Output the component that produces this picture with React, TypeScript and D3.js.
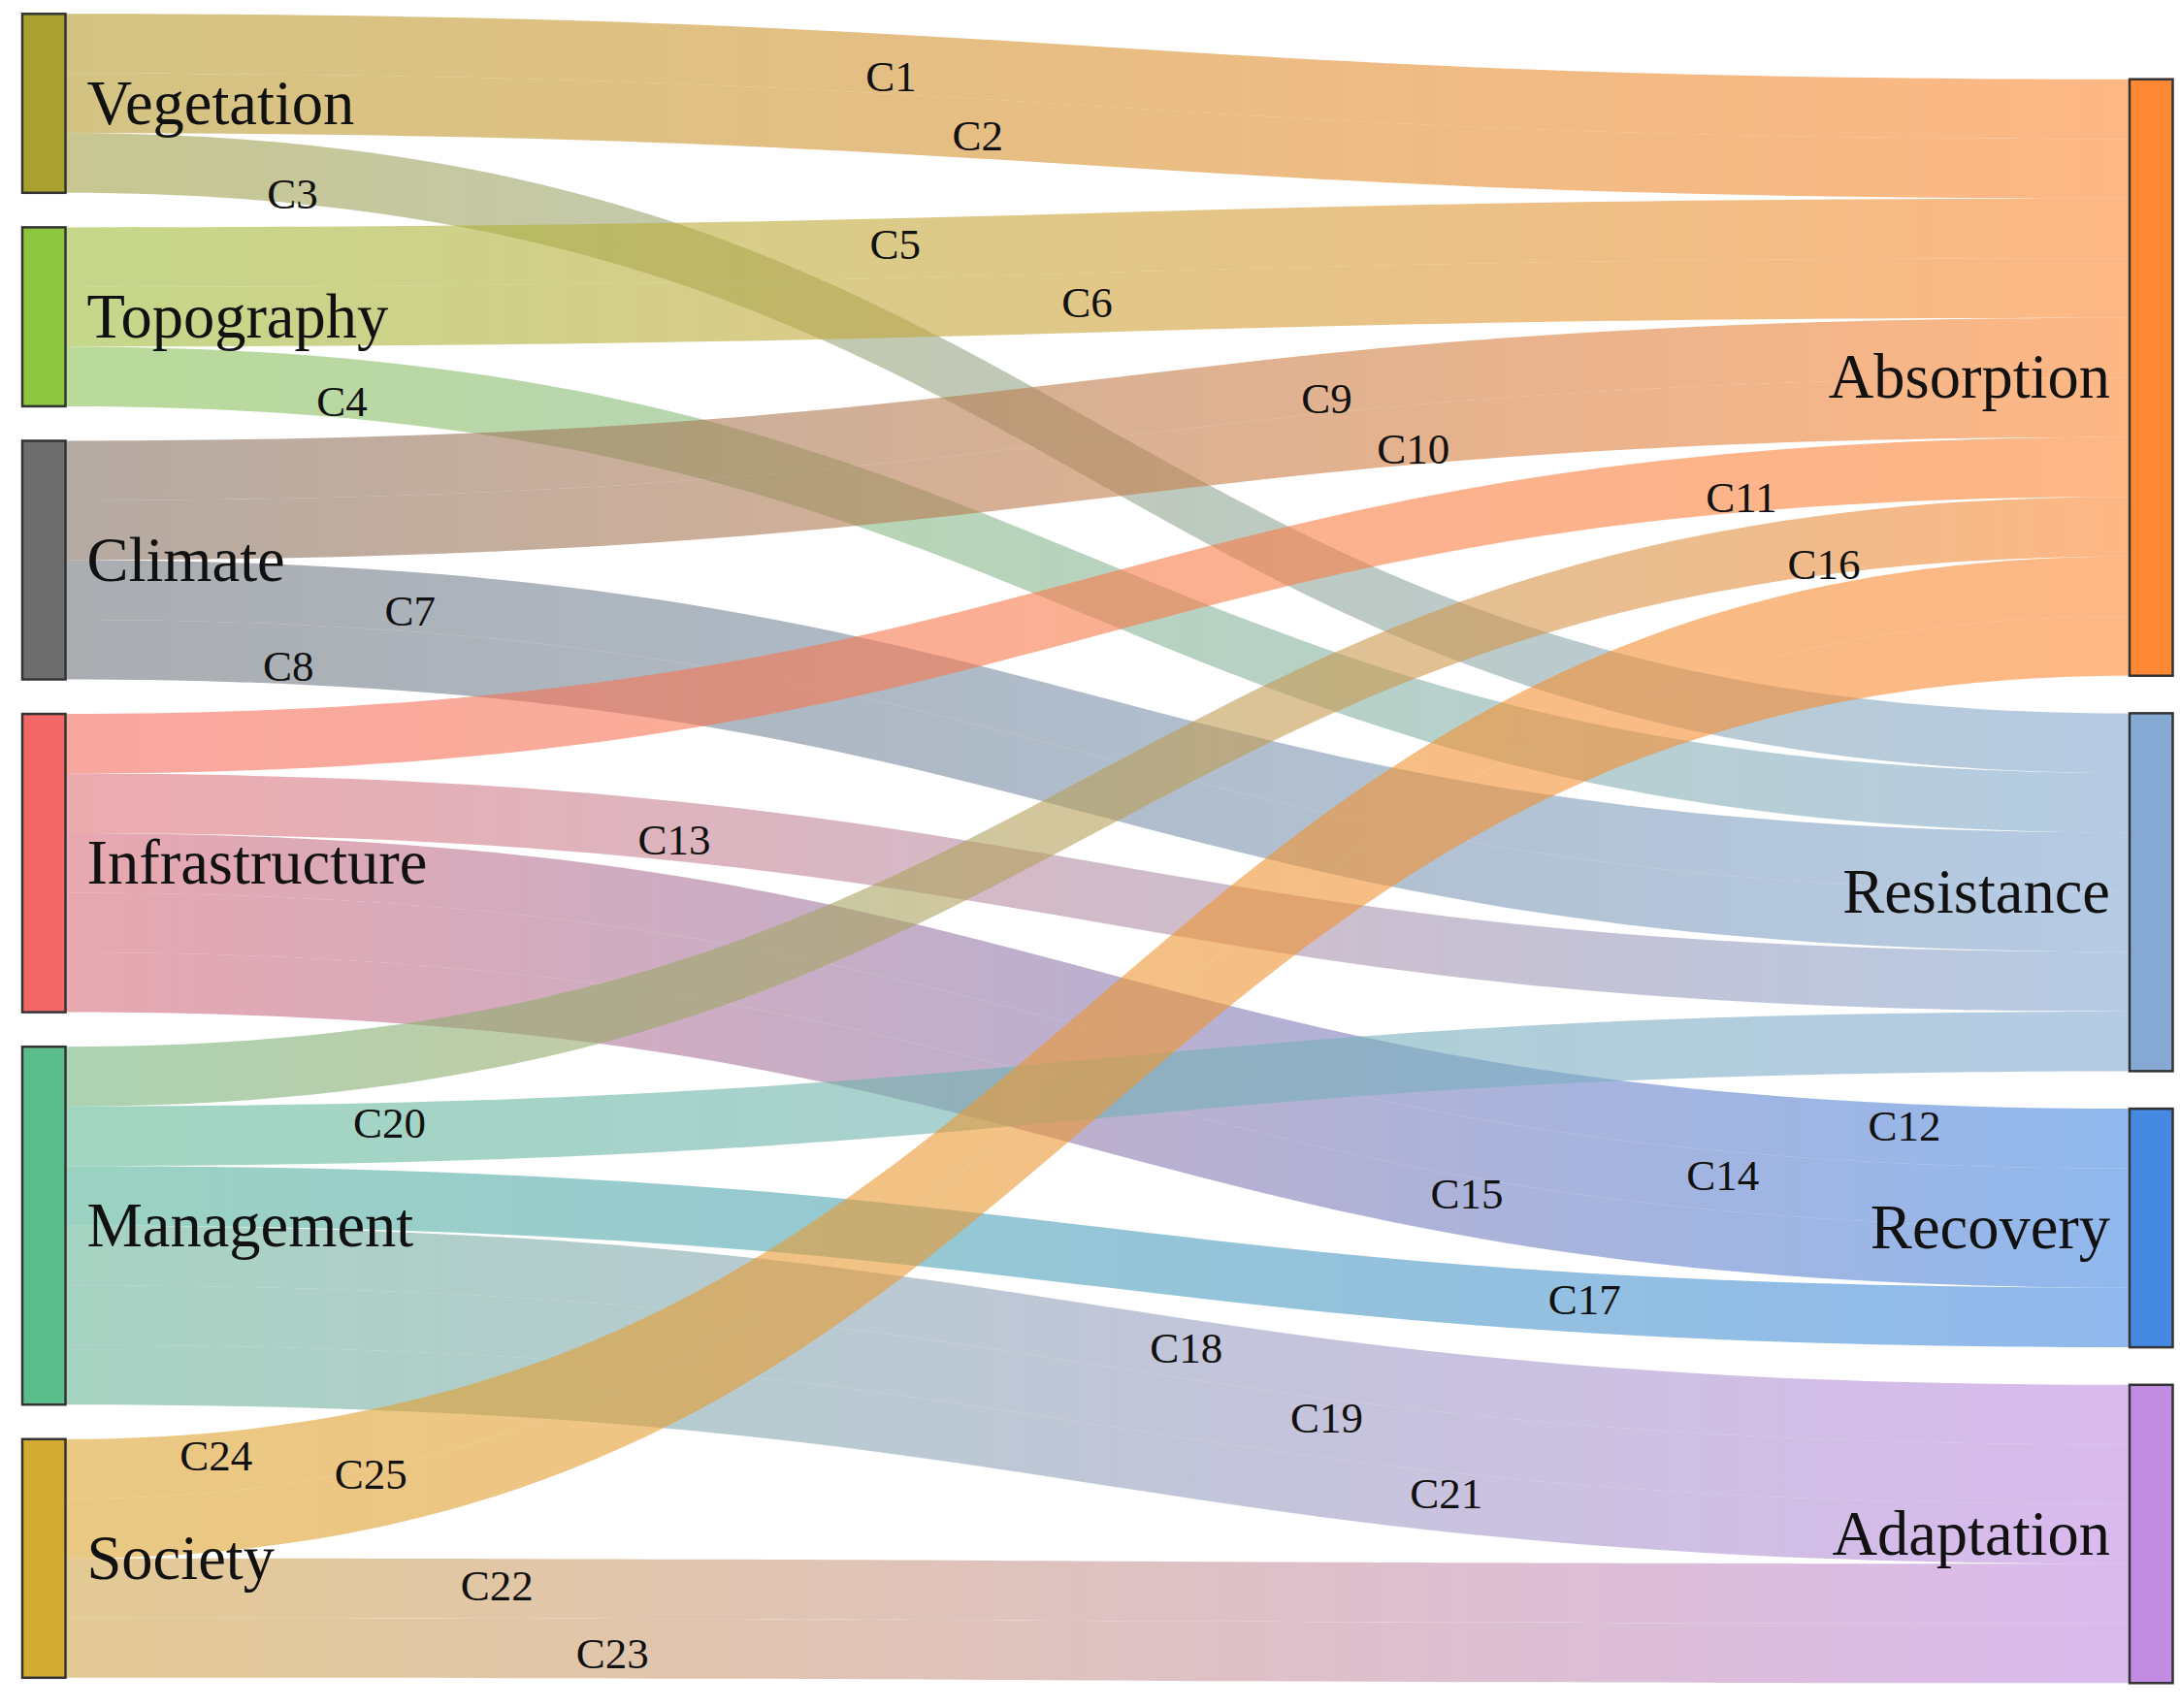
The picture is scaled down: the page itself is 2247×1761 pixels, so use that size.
import React from 'react';
import * as d3 from 'd3';

// ---------- data ----------
const sourceNodes = ['Vegetation', 'Topography', 'Climate', 'Infrastructure', 'Management', 'Society'];
const targetNodes = ['Absorption', 'Resistance', 'Recovery', 'Adaptation'];
const sourceColors = ['#a9a02f', '#8cc63e', '#6e6e6e', '#f26868', '#5bbd8b', '#d4ab31'];
const targetColors = ['#fd8733', '#85a9d2', '#4689e2', '#c18ce2'];

const linkIds = ['C1', 'C2', 'C3', 'C4', 'C5', 'C6', 'C7', 'C8', 'C9', 'C10', 'C11', 'C12', 'C13',
  'C14', 'C15', 'C16', 'C17', 'C18', 'C19', 'C20', 'C21', 'C22', 'C23', 'C24', 'C25'];
const linkSources = ['Vegetation', 'Vegetation', 'Vegetation', 'Topography', 'Topography', 'Topography',
  'Climate', 'Climate', 'Climate', 'Climate', 'Infrastructure', 'Infrastructure', 'Infrastructure',
  'Infrastructure', 'Infrastructure', 'Management', 'Management', 'Management', 'Management',
  'Management', 'Management', 'Society', 'Society', 'Society', 'Society'];
const linkTargets = ['Absorption', 'Absorption', 'Resistance', 'Resistance', 'Absorption', 'Absorption',
  'Resistance', 'Resistance', 'Absorption', 'Absorption', 'Absorption', 'Recovery', 'Resistance',
  'Recovery', 'Recovery', 'Absorption', 'Recovery', 'Adaptation', 'Adaptation', 'Resistance',
  'Adaptation', 'Adaptation', 'Adaptation', 'Absorption', 'Absorption'];
const linkValues = [1, 1, 1, 1, 1, 1, 1, 1, 1, 1, 1, 1, 1, 1, 1, 1, 1, 1, 1, 1, 1, 1, 1, 1, 1];

// label placement along each link (fraction of horizontal span) and shift across the band
const labelAlong = [0.400, 0.442, 0.110, 0.134, 0.402, 0.495, 0.167, 0.108, 0.611, 0.653, 0.812,
  0.891, 0.295, 0.803, 0.679, 0.852, 0.736, 0.543, 0.611, 0.157, 0.669, 0.209, 0.265, 0.073, 0.148];
const labelShift = [0.21, 0.13, 0.35, 0.23, -0.06, 0, 0.16, 0.21, 0.26, 0.24, 0.25, -0.12, 0.16,
  -0.09, -0.21, 0.33, -0.05, 0, -0.16, -0.16, -0.14, -0.05, 0.09, -0.11, -0.42];

// ---------- layout constants ----------
const W = 2247;
const H = 1761;
const nodeWidth = 44.5;
const leftX0 = 23;
const rightX0 = 2195;
const leftTop = 14.3;
const leftGap = 35.6;
const rightTop = 81.7;
const rightGap = 38.7;
const FONT = '"Liberation Serif", "Times New Roman", serif';

type NodeBox = { name: string; color: string; x0: number; x1: number; y0: number; y1: number; side: 'L' | 'R' };

export default function App() {
  const total = d3.sum(linkValues);
  const yScale = d3.scaleLinear().domain([0, total]).range([0, 1537.5]);
  const xScale = d3.scaleLinear().domain([0, 1]).range([leftX0, rightX0]);

  const links = linkIds.map((id, i) => ({
    id, i,
    s: sourceNodes.indexOf(linkSources[i]),
    t: targetNodes.indexOf(linkTargets[i]),
    v: linkValues[i],
    sy0: 0, sy1: 0, ty0: 0, ty1: 0,
  }));

  const stackColumn = (names: string[], colors: string[], key: 's' | 't', top: number, gap: number, x0: number, side: 'L' | 'R') => {
    let acc = top;
    return names.map((name, k) => {
      const v = d3.sum(links.filter(l => l[key] === k), l => l.v);
      const h = yScale(v) - yScale(0);
      const box: NodeBox = { name, color: colors[k], x0, x1: x0 + nodeWidth, y0: acc, y1: acc + h, side };
      acc += h + gap;
      return box;
    });
  };

  const leftNodes = stackColumn(sourceNodes, sourceColors, 's', leftTop, leftGap, xScale(0), 'L');
  const rightNodes = stackColumn(targetNodes, targetColors, 't', rightTop, rightGap, xScale(1), 'R');

  leftNodes.forEach((n, k) => {
    let y = n.y0;
    links.filter(l => l.s === k).sort((a, b) => a.t - b.t || a.i - b.i).forEach(l => {
      const h = yScale(l.v) - yScale(0);
      l.sy0 = y; l.sy1 = y + h; y += h;
    });
  });
  rightNodes.forEach((n, k) => {
    let y = n.y0;
    links.filter(l => l.t === k).sort((a, b) => a.s - b.s || a.i - b.i).forEach(l => {
      const h = yScale(l.v) - yScale(0);
      l.ty0 = y; l.ty1 = y + h; y += h;
    });
  });

  const lx = leftNodes[0].x1;
  const rx = rightNodes[0].x0;
  const xm = (lx + rx) / 2;
  const gradStart = lx - 0.18 * (rx - lx);

  const bandPath = (l: typeof links[number]) => {
    const p = d3.path();
    p.moveTo(lx, l.sy0);
    p.bezierCurveTo(xm, l.sy0, xm, l.ty0, rx, l.ty0);
    p.lineTo(rx, l.ty1);
    p.bezierCurveTo(xm, l.ty1, xm, l.sy1, lx, l.sy1);
    p.closePath();
    return p.toString();
  };

  const labelPos = (l: typeof links[number]) => {
    const tx = labelAlong[l.i];
    const fx = (s: number) => 1.5 * s * (1 - s) + s * s * s;
    let lo = 0, hi = 1;
    for (let k = 0; k < 40; k++) {
      const mid = (lo + hi) / 2;
      if (fx(mid) < tx) lo = mid; else hi = mid;
    }
    const s = (lo + hi) / 2;
    const f = 3 * s * s - 2 * s * s * s;
    const c0 = (l.sy0 + l.sy1) / 2;
    const c1 = (l.ty0 + l.ty1) / 2;
    const band = l.sy1 - l.sy0;
    return { x: lx + (rx - lx) * tx, y: c0 + (c1 - c0) * f + labelShift[l.i] * band };
  };

  const nodeFont = 64.5;
  const linkFont = 45;

  return (
    <svg width={W} height={H} viewBox={`0 0 ${W} ${H}`}
      style={{ position: 'absolute', left: 0, top: 0, display: 'block', background: '#fff' }}>
      <defs>
        {links.map(l => (
          <linearGradient key={l.id} id={`g-${l.id}`} gradientUnits="userSpaceOnUse" x1={gradStart} x2={rx} y1={0} y2={0}>
            <stop offset="0%" stopColor={sourceColors[l.s]} />
            <stop offset="100%" stopColor={targetColors[l.t]} />
          </linearGradient>
        ))}
      </defs>
      <rect x={0} y={0} width={W} height={H} fill="#fff" />
      <g>
        {links.map(l => (
          <path key={l.id} d={bandPath(l)} fill={`url(#g-${l.id})`} fillOpacity={0.6} />
        ))}
      </g>
      <g>
        {[...leftNodes, ...rightNodes].map(n => (
          <rect key={n.name} x={n.x0} y={n.y0} width={n.x1 - n.x0} height={n.y1 - n.y0}
            fill={n.color} stroke="#333" strokeWidth={2.5} />
        ))}
      </g>
      <g fontFamily={FONT} fill="#111">
        {leftNodes.map(n => (
          <text key={n.name} x={n.x1 + 22} y={(n.y0 + n.y1) / 2 + nodeFont * 0.33} fontSize={nodeFont}>{n.name}</text>
        ))}
        {rightNodes.map(n => (
          <text key={n.name} x={n.x0 - 20} y={(n.y0 + n.y1) / 2 + nodeFont * 0.33} fontSize={nodeFont}
            textAnchor="end">{n.name}</text>
        ))}
      </g>
      <g fontFamily={FONT} fill="#111">
        {links.map(l => {
          const p = labelPos(l);
          return (
            <text key={l.id} x={p.x} y={p.y + linkFont * 0.33} fontSize={linkFont} textAnchor="middle">{l.id}</text>
          );
        })}
      </g>
    </svg>
  );
}
